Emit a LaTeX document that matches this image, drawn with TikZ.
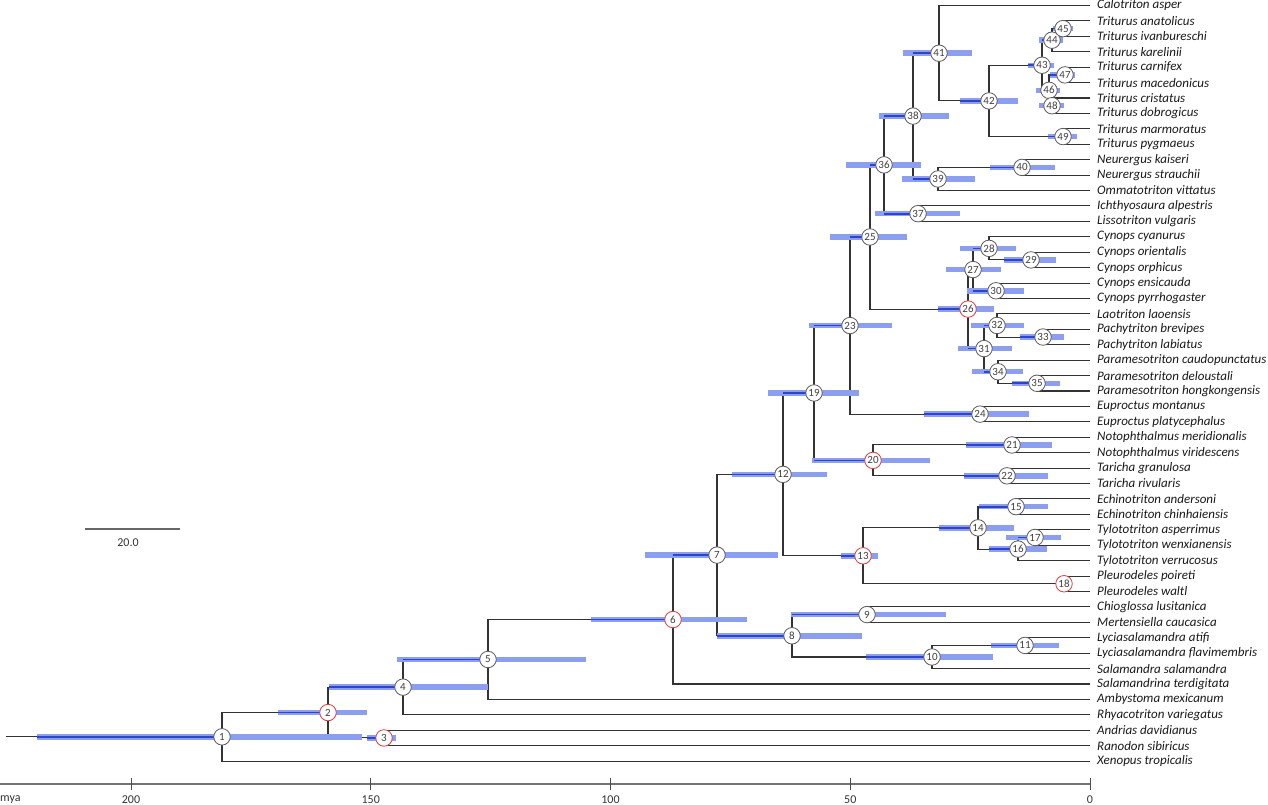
\documentclass[tikz,border=0pt]{standalone}
\usepackage{fontspec}
\setmainfont{Carlito}
\definecolor{barc}{RGB}{140,158,240}
\definecolor{dkc}{RGB}{45,68,205}
\definecolor{redc}{RGB}{220,60,60}
\definecolor{circc}{RGB}{90,90,90}
\newcommand\setY[2]{\pgfmathsetmacro\tmpY{#2}\expandafter\global\expandafter\let\csname tyY@#1\endcsname\tmpY}
\newcommand\gY[1]{\csname tyY@#1\endcsname}
\newcommand\setX[2]{\expandafter\xdef\csname tyX@#1\endcsname{#2}}
\newcommand\gX[1]{\csname tyX@#1\endcsname}
\newcommand\IN[4]{%
  \setX{#1}{#2}%
  \setY{#1}{(\gY{#3}+\gY{#4})/2}%
  \edef\cy{\gY{#1}}%
  \coordinate (#1) at (#2,\cy);
  \draw[br] (#3) -| (#1);
  \draw[br] (#4) -| (#1);
}
\newcommand\HPD[4]{%
  \edef\cy{\gY{#1}}%
  \draw[bar] (#2,\cy) -- (#3,\cy);
  \pgfmathsetmacro\tmpL{max(#2,\gX{#4})}%
  \draw[dk] (\tmpL,\cy) -- (#1);
}
\newcommand\ND[2][circc]{\node[nd,draw=#1] (N#2) at (n#2) {#2};}
\begin{document}
\begin{tikzpicture}[x=1pt,y=-1pt,
  br/.style={line width=1.05pt,draw=black!80},
  bar/.style={line width=5.5pt,draw=barc},
  dk/.style={line width=1.7pt,draw=dkc},
  nd/.style={circle,fill=white,line width=0.8pt,minimum size=16.5pt,inner sep=0pt,
     font=\fontsize{11}{12}\selectfont,text=black!75},
  lab/.style={anchor=west,inner sep=0pt,font=\fontsize{13}{14}\selectfont\itshape,text=black!90},
  axl/.style={line width=1.6pt,draw=black!55},
  axt/.style={font=\fontsize{12}{13}\selectfont,text=black!80,inner sep=0pt}]
\useasboundingbox (0,0) rectangle (1268,805);
\foreach \i/\nm in {0/Calotriton asper,1/Triturus anatolicus,2/Triturus ivanbureschi,3/Triturus karelinii,4/Triturus carnifex,5/Triturus macedonicus,6/Triturus cristatus,7/Triturus dobrogicus,8/Triturus marmoratus,9/Triturus pygmaeus,10/Neurergus kaiseri,11/Neurergus strauchii,12/Ommatotriton vittatus,13/Ichthyosaura alpestris,14/Lissotriton vulgaris,15/Cynops cyanurus,16/Cynops orientalis,17/Cynops orphicus,18/Cynops ensicauda,19/Cynops pyrrhogaster,20/Laotriton laoensis,21/Pachytriton brevipes,22/Pachytriton labiatus,23/Paramesotriton caudopunctatus,24/Paramesotriton deloustali,25/Paramesotriton hongkongensis,26/Euproctus montanus,27/Euproctus platycephalus,28/Notophthalmus meridionalis,29/Notophthalmus viridescens,30/Taricha granulosa,31/Taricha rivularis,32/Echinotriton andersoni,33/Echinotriton chinhaiensis,34/Tylototriton asperrimus,35/Tylototriton wenxianensis,36/Tylototriton verrucosus,37/Pleurodeles poireti,38/Pleurodeles waltl,39/Chioglossa lusitanica,40/Mertensiella caucasica,41/Lyciasalamandra atifi,42/Lyciasalamandra flavimembris,43/Salamandra salamandra,44/Salamandrina terdigitata,45/Ambystoma mexicanum,46/Rhyacotriton variegatus,47/Andrias davidianus,48/Ranodon sibiricus,49/Xenopus tropicalis}{
  \setY{t\i}{5.5+15.42*\i}
  \setX{t\i}{1090}
  \edef\cy{\gY{t\i}}
  \coordinate (t\i) at (1090,\cy);
  \node[lab] (L\i) at (1097,\cy) {\nm};
}
\IN{n45}{1063}{t1}{t2}
\IN{n44}{1052}{n45}{t3}
\IN{n47}{1065}{t4}{t5}
\IN{n48}{1052}{t6}{t7}
\IN{n46}{1049}{n47}{n48}
\IN{n43}{1042}{n44}{n46}
\IN{n49}{1063}{t8}{t9}
\IN{n42}{989}{n43}{n49}
\IN{n41}{939}{t0}{n42}
\IN{n40}{1022}{t10}{t11}
\IN{n39}{938}{n40}{t12}
\IN{n38}{913}{n41}{n39}
\IN{n37}{918}{t13}{t14}
\IN{n36}{884}{n38}{n37}
\IN{n29}{1031}{t16}{t17}
\IN{n28}{989}{t15}{n29}
\IN{n30}{996}{t18}{t19}
\IN{n27}{973}{n28}{n30}
\IN{n33}{1043}{t21}{t22}
\IN{n32}{997}{t20}{n33}
\IN{n35}{1037}{t24}{t25}
\IN{n34}{998}{t23}{n35}
\IN{n31}{984}{n32}{n34}
\IN{n26}{968}{n27}{n31}
\IN{n25}{870}{n36}{n26}
\IN{n24}{980}{t26}{t27}
\IN{n23}{850}{n25}{n24}
\IN{n21}{1012}{t28}{t29}
\IN{n22}{1007}{t30}{t31}
\IN{n20}{873}{n21}{n22}
\IN{n19}{814}{n23}{n20}
\IN{n15}{1016}{t32}{t33}
\IN{n17}{1035}{t34}{t35}
\IN{n16}{1018}{n17}{t36}
\IN{n14}{978}{n15}{n16}
\IN{n18}{1064}{t37}{t38}
\IN{n13}{863}{n14}{n18}
\IN{n12}{783}{n19}{n13}
\IN{n9}{867}{t39}{t40}
\IN{n11}{1025}{t41}{t42}
\IN{n10}{932}{n11}{t43}
\IN{n8}{792}{n9}{n10}
\IN{n7}{717}{n12}{n8}
\IN{n6}{673}{n7}{t44}
\IN{n5}{488}{n6}{t45}
\IN{n4}{403}{n5}{t46}
\IN{n3}{384}{t47}{t48}
\IN{n2}{328}{n4}{n3}
\IN{n1}{222}{n2}{t49}
\setX{root}{6}
\edef\cy{\gY{n1}}
\coordinate (root) at (6,\cy);
\draw[br] (root) -- (n1);
% HPD bars
\HPD{n1}{37}{362}{root}
\HPD{n2}{278}{367}{n1}
\HPD{n3}{367}{396}{n2}
\HPD{n4}{329}{488}{n2}
\HPD{n5}{397}{586}{n4}
\HPD{n6}{591}{747}{n5}
\HPD{n7}{645}{778}{n6}
\HPD{n8}{717}{862}{n7}
\HPD{n9}{791}{946}{n8}
\HPD{n10}{866}{993}{n8}
\HPD{n11}{991}{1059}{n10}
\HPD{n12}{732}{827}{n7}
\HPD{n13}{841}{878}{n12}
\HPD{n14}{939}{1014}{n13}
\HPD{n15}{979}{1048}{n14}
\HPD{n16}{989}{1047}{n14}
\HPD{n17}{1006}{1061}{n16}
\HPD{n19}{768}{859}{n12}
\HPD{n20}{812}{930}{n19}
\HPD{n21}{966}{1052}{n20}
\HPD{n22}{964}{1048}{n20}
\HPD{n23}{809}{892}{n19}
\HPD{n24}{924}{1029}{n23}
\HPD{n25}{830}{907}{n23}
\HPD{n26}{938}{994}{n25}
\HPD{n27}{946}{1001}{n26}
\HPD{n28}{960}{1016}{n27}
\HPD{n29}{1004}{1056}{n28}
\HPD{n30}{967}{1024}{n27}
\HPD{n31}{958}{1012}{n26}
\HPD{n32}{971}{1024}{n31}
\HPD{n33}{1020}{1064}{n32}
\HPD{n34}{972}{1023}{n31}
\HPD{n35}{1012}{1060}{n34}
\HPD{n36}{846}{921}{n25}
\HPD{n37}{875}{960}{n36}
\HPD{n38}{879}{949}{n36}
\HPD{n39}{902}{975}{n38}
\HPD{n40}{990}{1055}{n39}
\HPD{n41}{903}{972}{n38}
\HPD{n42}{960}{1018}{n41}
\HPD{n43}{1028}{1054}{n42}
\HPD{n44}{1039}{1063}{n43}
\HPD{n45}{1053}{1073}{n44}
\HPD{n46}{1036}{1060}{n43}
\HPD{n47}{1050}{1075}{n46}
\HPD{n48}{1039}{1064}{n46}
\HPD{n49}{1048}{1077}{n42}
% node circles
\ND{1}\ND[redc]{2}\ND[redc]{3}\ND{4}\ND{5}\ND[redc]{6}\ND{7}\ND{8}\ND{9}\ND{10}
\ND{11}\ND{12}\ND[redc]{13}\ND{14}\ND{15}\ND{16}\ND{17}\ND[redc]{18}\ND{19}\ND[redc]{20}
\ND{21}\ND{22}\ND{23}\ND{24}\ND{25}\ND[redc]{26}\ND{27}\ND{28}\ND{29}\ND{30}
\ND{31}\ND{32}\ND{33}\ND{34}\ND{35}\ND{36}\ND{37}\ND{38}\ND{39}\ND{40}
\ND{41}\ND{42}\ND{43}\ND{44}\ND{45}\ND{46}\ND{47}\ND{48}\ND{49}
% scale bar
\coordinate (sbA) at (85,529);
\coordinate (sbB) at (180,529);
\draw[line width=1.3pt,draw=black!60] (sbA) -- (sbB);
\node[axt] (sbL) at (128,543) {20.0};
% axis
\coordinate (axA) at (0,784);
\coordinate (axB) at (1090,784);
\draw[axl] (axA) -- (axB);
\node[axt,anchor=west] (mya) at (0,800) {mya};
\foreach \t in {0,50,100,150,200}{
  \pgfmathsetmacro\tx{1090-4.795*\t}
  \coordinate (tk\t) at (\tx,784);
  \draw[line width=0.9pt,draw=black!70] ([yshift=6pt]tk\t) -- ([yshift=-6pt]tk\t);
  \node[axt] (tl\t) at (\tx,800) {\t};
}
\end{tikzpicture}
\end{document}
